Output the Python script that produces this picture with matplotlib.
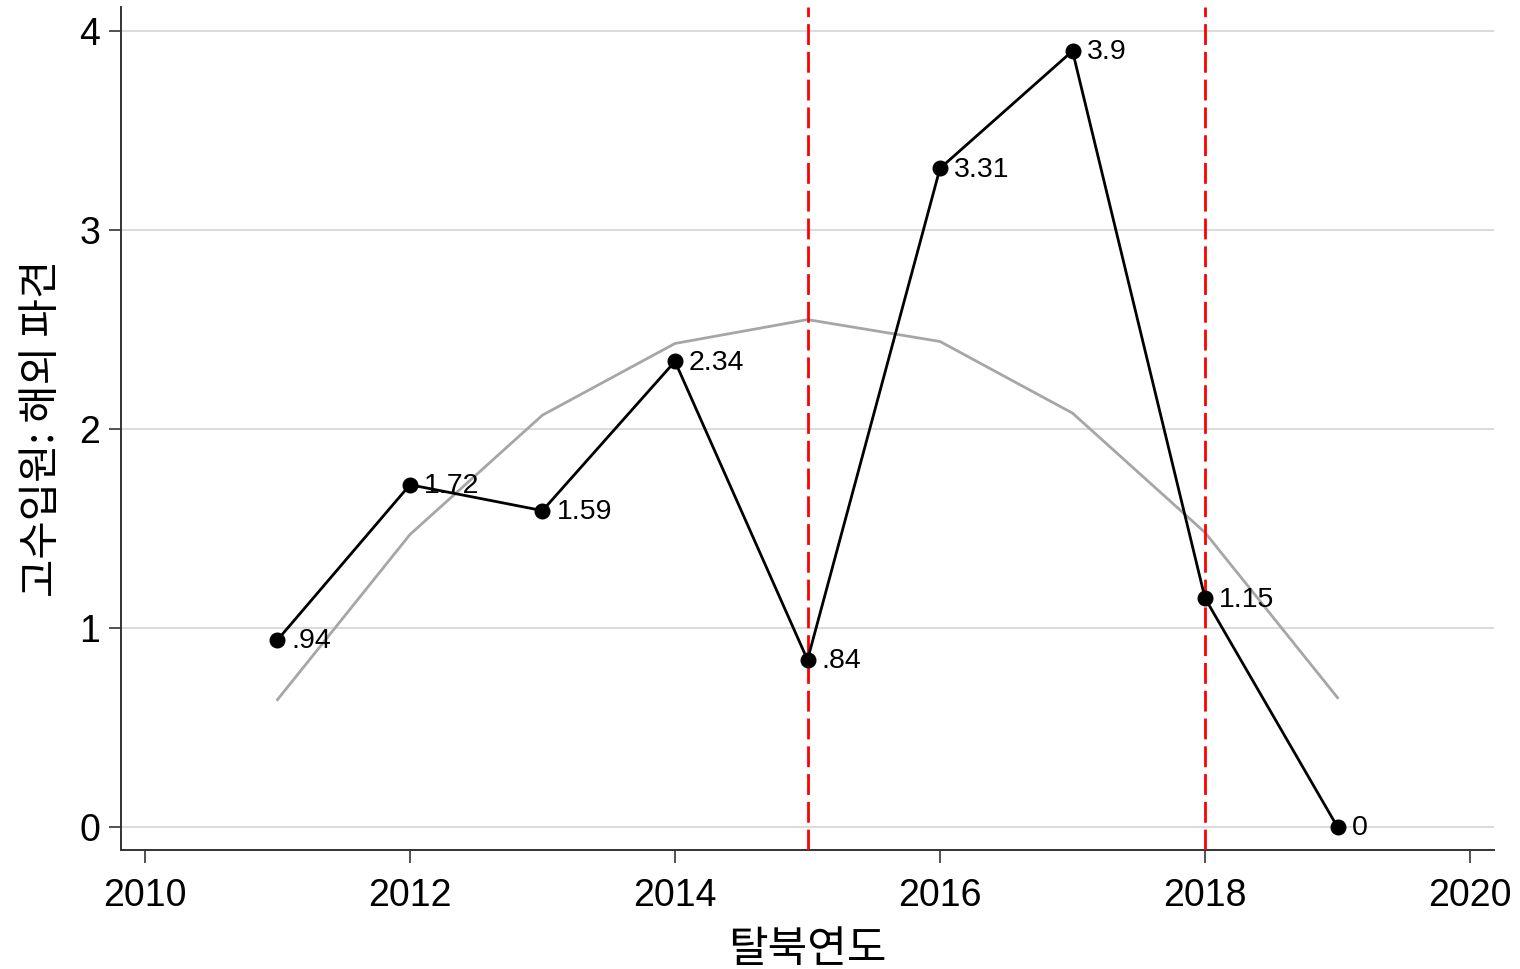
import matplotlib
matplotlib.use("Agg")
import matplotlib.pyplot as plt

years = [2011, 2012, 2013, 2014, 2015, 2016, 2017, 2018, 2019]
values = [0.94, 1.72, 1.59, 2.34, 0.84, 3.31, 3.90, 1.15, 0.00]
labels = [".94", "1.72", "1.59", "2.34", ".84", "3.31", "3.9", "1.15", "0"]
fit_values = [0.64, 1.47, 2.07, 2.43, 2.55, 2.44, 2.08, 1.48, 0.65]
vlines = [2015, 2018]
xticks = [2010, 2012, 2014, 2016, 2018, 2020]
yticks = [0, 1, 2, 3, 4]
xlabel = "탈북연도"
ylabel = "고수입원: 해외 파견"

plt.rcParams['font.family'] = ['Liberation Sans', 'Noto Sans CJK KR', 'DejaVu Sans']

fig = plt.figure(figsize=(15.2, 9.69), dpi=100)
ax = fig.add_axes([121/1520, 1 - 850/969, (1494 - 121)/1520, (850 - 7)/969])

ax.set_xlim(2009.819, 2020.181)
ax.set_ylim(-0.1156, 4.121)

for yt in yticks:
    ax.axhline(yt, color='#d4d4d4', lw=1.2, zorder=0)

ax.plot(years, fit_values, color='#a6a6a6', lw=2.0, zorder=2)
for v in vlines:
    ax.axvline(v, color='#ff0000', lw=2.0, dashes=(7.5, 2.5), zorder=3)
ax.plot(years, values, color='black', lw=2.0, marker='o', markersize=10.5, zorder=4)

for x, y, t in zip(years, values, labels):
    ax.annotate(t, (x, y), xytext=(10, -1), textcoords='offset points',
                ha='left', va='center', fontsize=20.5, color='black', zorder=5)

ax.set_xticks(xticks)
ax.set_yticks(yticks)
ax.tick_params(axis='both', direction='out', length=9, width=1.2, color='#333333',
               labelsize=27, labelcolor='black')
ax.tick_params(axis='x', pad=11)
ax.tick_params(axis='y', pad=6)
for s in ['top', 'right']:
    ax.spines[s].set_visible(False)
for s in ['left', 'bottom']:
    ax.spines[s].set_color('#333333')
    ax.spines[s].set_linewidth(1.4)

ax.set_xlabel(xlabel, fontsize=31, family=['Noto Sans CJK KR', 'DejaVu Sans'], labelpad=10)
ax.set_ylabel(ylabel, fontsize=30, family=['Noto Sans CJK KR', 'DejaVu Sans'], labelpad=12)

fig.savefig("out.png", dpi=100, facecolor='white')
